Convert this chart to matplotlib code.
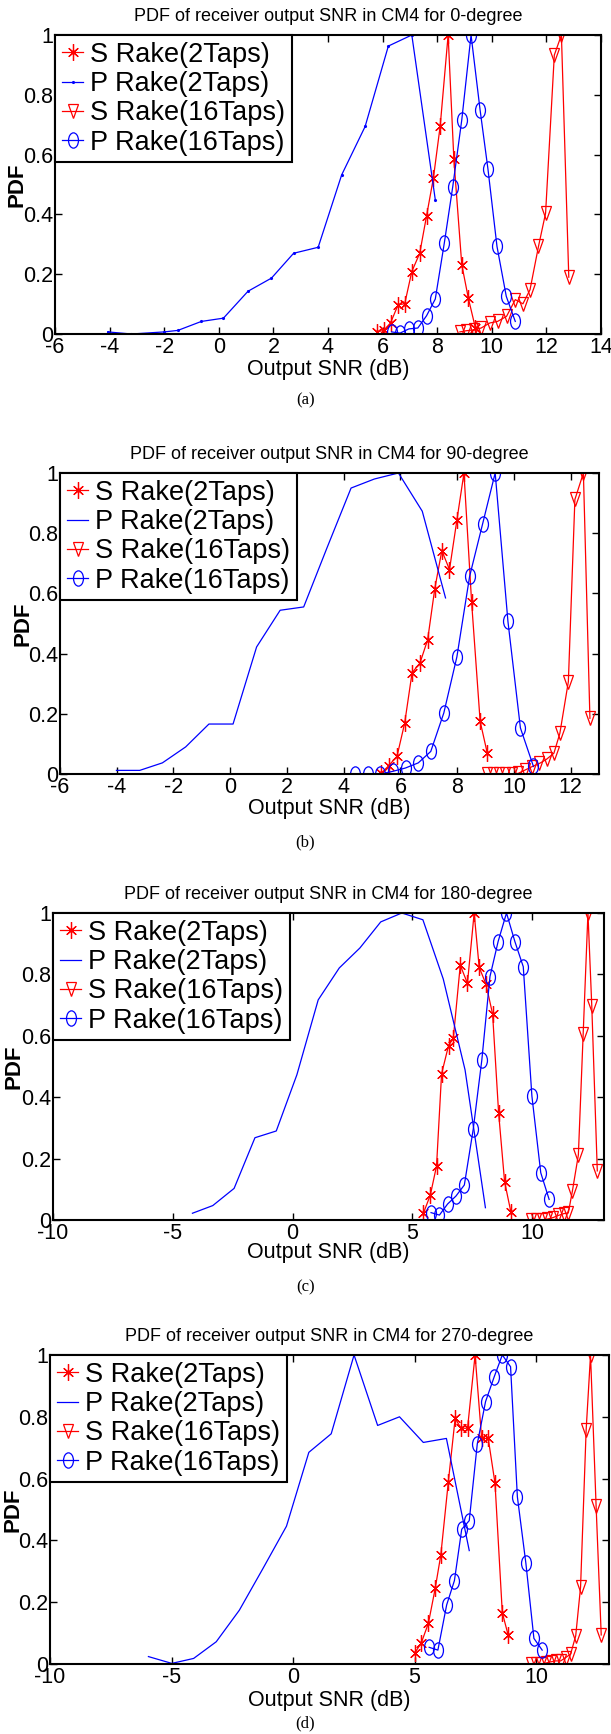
import matplotlib
matplotlib.use("Agg")
import matplotlib.pyplot as plt
from matplotlib.markers import MarkerStyle
from matplotlib.transforms import Affine2D

# ---- data (Output SNR in dB, PDF) ----
titles = ["PDF of receiver output SNR in CM4 for 0-degree",
          "PDF of receiver output SNR in CM4 for 90-degree",
          "PDF of receiver output SNR in CM4 for 180-degree",
          "PDF of receiver output SNR in CM4 for 270-degree"]
captions = ["(a)", "(b)", "(c)", "(d)"]
labels = ["S Rake(2Taps)", "P Rake(2Taps)", "S Rake(16Taps)", "P Rake(16Taps)"]

# (a) 0 degree
a_s2_x = [5.79, 6.04, 6.29, 6.57, 6.81, 7.07, 7.36, 7.61, 7.86, 8.11, 8.4, 8.61, 8.9, 9.14, 9.4]
a_s2_y = [0.007, 0.012, 0.037, 0.098, 0.101, 0.209, 0.27, 0.395, 0.521, 0.696, 1.0, 0.585, 0.232, 0.12, 0.02]
a_p2_x = [-4.07, -3.2, -2.0, -1.5, -0.64, 0.17, 1.07, 1.93, 2.74, 3.64, 4.5, 5.36, 6.21, 7.07, 7.93]
a_p2_y = [0.007, 0.0, 0.007, 0.012, 0.042, 0.053, 0.143, 0.187, 0.27, 0.29, 0.532, 0.694, 0.963, 1.0, 0.449]
a_s16_x = [8.83, 9.07, 9.36, 9.61, 9.93, 10.21, 10.54, 10.86, 11.14, 11.4, 11.71, 11.97, 12.29, 12.55, 12.82]
a_s16_y = [0.007, 0.011, 0.014, 0.02, 0.037, 0.042, 0.059, 0.115, 0.101, 0.148, 0.293, 0.404, 0.933, 1.0, 0.19]
a_p16_x = [6.33, 6.64, 6.96, 7.29, 7.61, 7.93, 8.26, 8.57, 8.9, 9.24, 9.57, 9.86, 10.19, 10.53, 10.86]
a_p16_y = [0.007, 0.003, 0.017, 0.02, 0.061, 0.117, 0.304, 0.493, 0.716, 1.0, 0.75, 0.551, 0.293, 0.126, 0.042]

# (b) 90 degree
b_s2_x = [5.33, 5.59, 5.88, 6.15, 6.41, 6.69, 6.96, 7.21, 7.46, 7.73, 7.99, 8.24, 8.51, 8.81, 9.06]
b_s2_y = [0.003, 0.028, 0.059, 0.169, 0.336, 0.369, 0.446, 0.615, 0.742, 0.679, 0.843, 1.0, 0.57, 0.175, 0.07]
b_p2_x = [-4.01, -3.19, -2.39, -1.57, -0.75, 0.1, 0.93, 1.76, 2.59, 3.41, 4.26, 5.08, 5.93, 6.77, 7.59]
b_p2_y = [0.012, 0.012, 0.037, 0.09, 0.166, 0.166, 0.422, 0.544, 0.555, 0.751, 0.95, 0.98, 1.0, 0.873, 0.585]
b_s16_x = [9.06, 9.27, 9.49, 9.69, 9.92, 10.15, 10.39, 10.63, 10.9, 11.15, 11.41, 11.62, 11.92, 12.15, 12.45, 12.68]
b_s16_y = [0.0, 0.0, 0.0, 0.0, 0.0, 0.002, 0.013, 0.024, 0.035, 0.049, 0.069, 0.135, 0.307, 0.912, 1.0, 0.185]
b_p16_x = [4.4, 4.84, 5.29, 5.74, 6.18, 6.63, 7.07, 7.53, 7.99, 8.44, 8.9, 9.34, 9.79, 10.23, 10.69]
b_p16_y = [0.0, 0.0, 0.0, 0.009, 0.02, 0.037, 0.075, 0.203, 0.389, 0.657, 0.832, 1.0, 0.507, 0.153, 0.025]

# (c) 180 degree
c_s2_x = [5.46, 5.75, 6.01, 6.22, 6.51, 6.71, 7.0, 7.3, 7.58, 7.79, 8.07, 8.35, 8.6, 8.85, 9.11]
c_s2_y = [0.022, 0.081, 0.176, 0.476, 0.568, 0.592, 0.83, 0.771, 1.0, 0.823, 0.769, 0.671, 0.35, 0.125, 0.027]
c_p2_x = [-4.18, -3.33, -2.44, -1.57, -0.68, 0.18, 1.07, 1.95, 2.81, 3.68, 4.56, 5.44, 6.29, 7.2, 8.05]
c_p2_y = [0.022, 0.047, 0.103, 0.268, 0.29, 0.473, 0.717, 0.821, 0.886, 0.971, 1.0, 0.978, 0.785, 0.489, 0.04]
c_s16_x = [9.95, 10.18, 10.4, 10.64, 10.88, 11.1, 11.33, 11.51, 11.68, 11.93, 12.13, 12.33, 12.49, 12.72]
c_s16_y = [0.0, 0.0, 0.0, 0.003, 0.008, 0.015, 0.021, 0.023, 0.094, 0.212, 0.605, 1.0, 0.697, 0.16]
c_p16_x = [5.78, 6.13, 6.47, 6.82, 7.17, 7.54, 7.9, 8.24, 8.58, 8.93, 9.28, 9.63, 9.99, 10.36, 10.71]
c_p16_y = [0.024, 0.016, 0.052, 0.078, 0.114, 0.295, 0.521, 0.793, 0.907, 1.0, 0.907, 0.825, 0.404, 0.154, 0.067]

# (d) 270 degree
d_s2_x = [5.0, 5.27, 5.57, 5.85, 6.08, 6.39, 6.67, 6.91, 7.18, 7.49, 7.76, 8.03, 8.31, 8.61, 8.85]
d_s2_y = [0.035, 0.067, 0.132, 0.245, 0.353, 0.59, 0.795, 0.763, 0.763, 1.0, 0.73, 0.73, 0.585, 0.166, 0.094]
d_p2_x = [-5.95, -4.99, -4.09, -3.16, -2.21, -1.26, -0.27, 0.65, 1.57, 2.51, 3.48, 4.38, 5.36, 6.31, 7.25]
d_p2_y = [0.024, 0.002, 0.018, 0.072, 0.174, 0.306, 0.446, 0.685, 0.745, 1.0, 0.772, 0.8, 0.717, 0.73, 0.367]
d_s16_x = [9.78, 9.99, 10.19, 10.4, 10.6, 10.81, 11.01, 11.22, 11.42, 11.63, 11.83, 12.06, 12.24, 12.47, 12.68]
d_s16_y = [0.0, 0.0, 0.0, 0.003, 0.007, 0.01, 0.01, 0.021, 0.032, 0.091, 0.249, 0.758, 1.0, 0.51, 0.094]
d_p16_x = [5.6, 5.96, 6.32, 6.64, 6.94, 7.25, 7.58, 7.92, 8.27, 8.61, 8.95, 9.23, 9.58, 9.91, 10.25]
d_p16_y = [0.054, 0.045, 0.191, 0.27, 0.436, 0.464, 0.712, 0.849, 0.928, 1.0, 0.962, 0.541, 0.326, 0.083, 0.045]

x_limits = [(-6, 14), (-6, 13), (-10, 13), (-10, 13)]
x_ticks = [list(range(-6, 15, 2)), list(range(-6, 13, 2)), [-10, -5, 0, 5, 10], [-10, -5, 0, 5, 10]]
y_ticks = [0, 0.2, 0.4, 0.6, 0.8, 1]
y_ticklabels = ["0", "0.2", "0.4", "0.6", "0.8", "1"]

panels = [
    (a_s2_x, a_s2_y, a_p2_x, a_p2_y, a_s16_x, a_s16_y, a_p16_x, a_p16_y),
    (b_s2_x, b_s2_y, b_p2_x, b_p2_y, b_s16_x, b_s16_y, b_p16_x, b_p16_y),
    (c_s2_x, c_s2_y, c_p2_x, c_p2_y, c_s16_x, c_s16_y, c_p16_x, c_p16_y),
    (d_s2_x, d_s2_y, d_p2_x, d_p2_y, d_s16_x, d_s16_y, d_p16_x, d_p16_y),
]

# layout in pixels of the 611x1734 image: left, right, top, bottom
boxes = [(55, 601, 35, 334), (60, 599, 473, 774), (53, 604, 913, 1220), (50, 609, 1355, 1664)]
xlabel_top = [359, 798, 1242, 1690]
ylabel_right = [28, 34, 25, 23]
caption_y = [400, 842, 1287, 1723]

W, H = 611, 1734
plt.rcParams["font.family"] = ["Liberation Sans", "DejaVu Sans"]
fig = plt.figure(figsize=(W / 100, H / 100), dpi=100)

squish = Affine2D().scale(0.65, 1.0)
star = MarkerStyle((6, 2, 0), transform=squish)
tri = MarkerStyle("v", fillstyle="none", transform=squish)
circ = MarkerStyle("o", fillstyle="none", transform=squish)
narrow = ["Liberation Sans Narrow", "Liberation Sans", "DejaVu Sans"]

for i, (sx, sy, px, py, s16x, s16y, p16x, p16y) in enumerate(panels):
    l, r, t, b = boxes[i]
    ax = fig.add_axes([l / W, (H - b) / H, (r - l) / W, (b - t) / H])
    ax.plot(sx, sy, color="#ff0000", lw=0.9, marker=star, ms=12, mew=0.9,
            label=labels[0])
    if i == 0:
        ax.plot(px, py, color="#0000ff", lw=0.9, marker=".", ms=2.5,
                label=labels[1])
    else:
        ax.plot(px, py, color="#0000ff", lw=0.9, label=labels[1])
    ax.plot(s16x, s16y, color="#ff0000", lw=0.9, marker=tri, ms=10, mew=0.9,
            label=labels[2])
    ax.plot(p16x, p16y, color="#0000ff", lw=0.9, marker=circ, ms=11, mew=0.9,
            label=labels[3])

    ax.set_xlim(*x_limits[i])
    ax.set_ylim(0, 1)
    ax.set_xticks(x_ticks[i])
    ax.set_xticklabels([str(v) for v in x_ticks[i]], family=narrow, fontsize=15.5)
    ax.set_yticks(y_ticks)
    ax.set_yticklabels(y_ticklabels, family=narrow, fontsize=15.5)
    ax.tick_params(direction="in", length=5, width=1, top=True, right=True)
    ax.tick_params(axis="y", pad=1)
    ax.tick_params(axis="x", pad=2)
    for s in ax.spines.values():
        s.set_linewidth(1.5)

    ax.set_title(titles[i], fontsize=13, pad=10)
    ax.set_xlabel("Output SNR (dB)", fontsize=15.5)
    ax.xaxis.set_label_coords(0.5, (b - xlabel_top[i]) / (b - t))
    ax.set_ylabel("PDF", fontsize=16, fontweight="bold")
    ax.yaxis.set_label_coords((ylabel_right[i] - l) / (r - l), 0.5)

    leg = ax.legend(loc="upper left", borderaxespad=0, fontsize=19.5,
                    handlelength=0.8, handletextpad=0.25, labelspacing=0.12,
                    borderpad=0.25, fancybox=False, framealpha=1)
    leg.get_frame().set_edgecolor("black")
    leg.get_frame().set_linewidth(1.5)

    fig.text(0.5, 1 - caption_y[i] / H, captions[i], ha="center", va="center",
             family=["Liberation Serif", "DejaVu Serif"], fontsize=12)

fig.savefig("out.png", dpi=100)
